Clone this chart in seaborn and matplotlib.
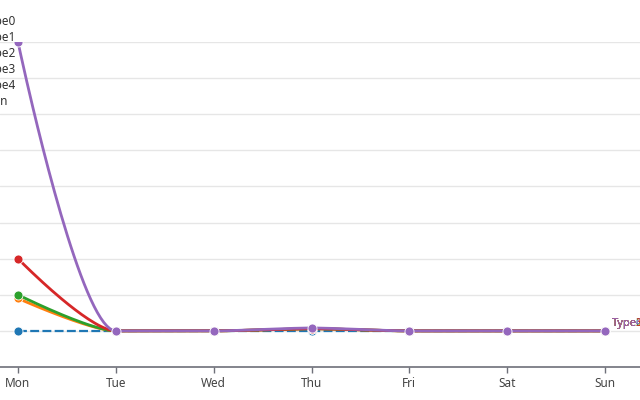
import numpy as np
import pandas as pd
import matplotlib
matplotlib.use("Agg")
import matplotlib.pyplot as plt
import seaborn as sns

days = ["Mon", "Tue", "Wed", "Thu", "Fri", "Sat", "Sun"]
series_names = ["Type0", "Type1", "Type2", "Type3", "Type4"]
legend_labels = ["Type0", "Type1", "Type2", "Type3", "Type4", "Open"]
type0 = [0, 0, 0, 0, 0, 0, 0]
type1 = [0.9, 0, 0, 0.06, 0, 0, 0]
type2 = [1.0, 0, 0, 0.06, 0, 0, 0]
type3 = [2.0, 0, 0, 0.06, 0, 0, 0]
type4 = [8.0, 0, 0, 0.08, 0, 0, 0]
values = [type0, type1, type2, type3, type4]
colors = ["#1f77b4", "#ff7f0e", "#2ca02c", "#d62728", "#9467bd"]
dashes = [(4, 1.5), "", "", "", ""]

sns.set_theme(style="white")
plt.rcParams["font.family"] = ["Noto Sans", "DejaVu Sans"]

W, H = 640, 400
fig = plt.figure(figsize=(6.4, 4.0), dpi=100)
ax_left_px, ax_right_px = 0, 640
ax_top_px, ax_bot_px = 42, 367
ax = fig.add_axes([ax_left_px / W, 1 - ax_bot_px / H,
                   (ax_right_px - ax_left_px) / W, (ax_bot_px - ax_top_px) / H])

mon_px, sun_px = 18, 605
ppu_x = (sun_px - mon_px) / 6.0
ymin, ymax = -1, 8
ppu_y = (ax_bot_px - ax_top_px) / (ymax - ymin)
ax.set_xlim(-mon_px / ppu_x, 6 + (W - sun_px) / ppu_x)
ax.set_ylim(ymin, ymax)


def smooth_curve(xs, ys, smooth=0.25, n=40):
    X = np.asarray(xs, float) * ppu_x
    Y = np.asarray(ys, float) * ppu_y
    m = len(X)
    cin = [None] * m
    cout = [None] * m
    cout[0] = (X[0], Y[0])
    cin[m - 1] = (X[m - 1], Y[m - 1])
    for i in range(1, m - 1):
        x, y = X[i], Y[i]
        px, py = X[i - 1], Y[i - 1]
        nx, ny = X[i + 1], Y[i + 1]
        vx, vy = nx - px, ny - py
        lp = np.hypot(x - px, y - py)
        ln = np.hypot(nx - x, ny - y)
        r = ln / (ln + lp)
        ncx = x + vx * smooth * r
        ncy = y + vy * smooth * r
        ncx = min(ncx, max(nx, x)); ncx = max(ncx, min(nx, x))
        ncy = min(ncy, max(ny, y)); ncy = max(ncy, min(ny, y))
        vx, vy = ncx - x, ncy - y
        c1x = x - vx * lp / ln
        c1y = y - vy * lp / ln
        c1x = min(c1x, max(px, x)); c1x = max(c1x, min(px, x))
        c1y = min(c1y, max(py, y)); c1y = max(c1y, min(py, y))
        vx, vy = x - c1x, y - c1y
        ncx = x + vx * ln / lp
        ncy = y + vy * ln / lp
        cin[i] = (c1x, c1y)
        cout[i] = (ncx, ncy)
    t = np.linspace(0, 1, n)
    outx, outy = [], []
    for i in range(m - 1):
        p0 = (X[i], Y[i]); p3 = (X[i + 1], Y[i + 1])
        p1 = cout[i]; p2 = cin[i + 1]
        bx = ((1 - t) ** 3) * p0[0] + 3 * ((1 - t) ** 2) * t * p1[0] + 3 * (1 - t) * t ** 2 * p2[0] + t ** 3 * p3[0]
        by = ((1 - t) ** 3) * p0[1] + 3 * ((1 - t) ** 2) * t * p1[1] + 3 * (1 - t) * t ** 2 * p2[1] + t ** 3 * p3[1]
        if i > 0:
            bx, by = bx[1:], by[1:]
        outx.extend(bx); outy.extend(by)
    return np.array(outx) / ppu_x, np.array(outy) / ppu_y


# grid
for g in range(0, ymax + 1):
    ax.axhline(g, color="#E6E6E6", lw=1, zorder=0)

xpos = np.arange(len(days))
for k, (name, vals, col, ds) in enumerate(zip(series_names, values, colors, dashes)):
    cx, cy = smooth_curve(xpos, vals)
    df_line = pd.DataFrame({"x": cx, "y": cy})
    sns.lineplot(data=df_line, x="x", y="y", ax=ax, color=col, lw=2.0 if k else 1.6,
                 sort=False, estimator=None, zorder=2 + 2 * k)
    if ds:
        ax.lines[-1].set_dashes(ds)
    df_pts = pd.DataFrame({"x": xpos, "y": vals})
    sns.scatterplot(data=df_pts, x="x", y="y", ax=ax, color=col, s=42,
                    edgecolor="white", linewidth=0.6, zorder=3 + 2 * k)
    ax.annotate(name, (xpos[-1], vals[-1]), xytext=(7, 7), textcoords="offset pixels",
                ha="left", va="center", color=col, fontsize=8, fontweight="bold",
                zorder=20 + k, annotation_clip=False)

ax.set_xlabel("")
ax.set_ylabel("")
ax.set_yticks([])
ax.set_xticks(xpos)
ax.set_xticklabels(days, color="#444444", fontsize=8.5)
ax.tick_params(axis="x", length=4, width=1, color="#6E7079", pad=3, bottom=True)
for s in ["top", "right", "left"]:
    ax.spines[s].set_visible(False)
ax.spines["bottom"].set_color("#6E7079")
ax.spines["bottom"].set_linewidth(1.2)

# legend text (cut off at left edge)
leg_y = [22, 38, 54, 70, 86, 102]
leg_right = [16, 16, 16, 16, 16, 8]
for lbl, yy, xr in zip(legend_labels, leg_y, leg_right):
    fig.text(xr / W, 1 - yy / H, lbl, ha="right", va="center", fontsize=8.5, color="#333333")

fig.savefig("out.png", dpi=100)
